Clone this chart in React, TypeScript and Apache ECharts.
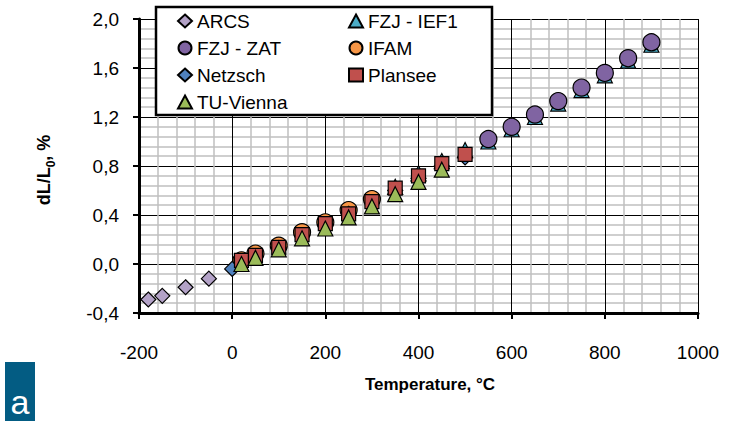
import React, { useEffect, useRef } from "react";
import * as echarts from "echarts";

// ---- data ----
const xTickMin = -200;
const xTickMax = 1000;
const yTickMin = -0.4;
const yTickMax = 2.0;

const seriesNames = ["ARCS", "FZJ - IEF1", "FZJ - ZAT", "IFAM", "Netzsch", "Plansee", "TU-Vienna"];

const arcsT = [-180, -150, -100, -50];
const arcsV = [-0.29, -0.26, -0.19, -0.12];

const ief1T = [350, 400, 450, 500, 550, 600, 650, 700, 750, 800, 850, 900];
const ief1V = [0.63, 0.74, 0.84, 0.93, 1.0, 1.1, 1.2, 1.31, 1.42, 1.54, 1.66, 1.79];

const zatT = [550, 600, 650, 700, 750, 800, 850, 900];
const zatV = [1.02, 1.12, 1.22, 1.33, 1.44, 1.56, 1.68, 1.81];

const ifamT = [20, 50, 100, 150, 200, 250, 300];
const ifamV = [0.03, 0.085, 0.15, 0.26, 0.34, 0.44, 0.53];

const netzschT = [0, 50, 100, 150, 200, 250, 300, 350, 400, 450, 500];
const netzschV = [-0.04, 0.06, 0.13, 0.23, 0.32, 0.41, 0.5, 0.6, 0.7, 0.8, 0.87];

const planseeT = [20, 50, 100, 150, 200, 250, 300, 350, 400, 450, 500];
const planseeV = [0.03, 0.07, 0.135, 0.24, 0.33, 0.41, 0.51, 0.62, 0.72, 0.82, 0.895];

const tuT = [20, 50, 100, 150, 200, 250, 300, 350, 400, 450];
const tuV = [0.0, 0.05, 0.12, 0.21, 0.29, 0.38, 0.47, 0.57, 0.67, 0.77];

const FONT = "'Liberation Sans', Arial, sans-serif";

const pairs = (t: number[], v: number[]) => t.map((x, i) => [x, v[i]]);

export default function App() {
  const ref = useRef<HTMLDivElement>(null);
  useEffect(() => {
    document.body.style.margin = "0";
    if (!ref.current) return;
    const chart = echarts.init(ref.current, null, { renderer: "svg" });

    const mk = (
      name: string,
      data: number[][],
      symbol: string,
      color: string,
      size: number
    ) => ({
      name,
      type: "scatter",
      data,
      symbol,
      symbolSize: size,
      itemStyle: { color, borderColor: "#000", borderWidth: 1.2, opacity: 1 },
      emphasis: { disabled: true },
    });

    const legendCommon = {
      orient: "vertical",
      padding: 0,
      itemWidth: 14,
      itemHeight: 13,
      itemGap: 7,
      textStyle: { fontFamily: FONT, fontSize: 19, color: "#000", lineHeight: 20 },
      selectedMode: false,
      z: 10,
    };

    chart.setOption({
      animation: false,
      grid: { left: 139, right: 31, top: 19, bottom: 108 },
      xAxis: {
        type: "value",
        min: xTickMin,
        max: xTickMax,
        interval: 200,
        axisLine: { onZero: false, lineStyle: { color: "#000", width: 3 } },
        axisTick: { show: true, length: 6, lineStyle: { color: "#000", width: 2 } },
        axisLabel: {
          fontFamily: FONT,
          fontSize: 19,
          color: "#000",
          margin: 30,
          formatter: (v: number) => String(v),
        },
        splitLine: { show: true, lineStyle: { color: "#000", width: 1 } },
        minorTick: { show: false, splitNumber: 5 },
        minorSplitLine: { show: true, lineStyle: { color: "#BFBFBF", width: 1.5 } },
      },
      yAxis: {
        type: "value",
        min: yTickMin,
        max: yTickMax,
        interval: 0.4,
        axisLine: { onZero: false, lineStyle: { color: "#000", width: 3 } },
        axisTick: { show: true, length: 6, lineStyle: { color: "#000", width: 2 } },
        axisLabel: {
          fontFamily: FONT,
          fontSize: 19,
          color: "#000",
          margin: 20,
          formatter: (v: number) => v.toFixed(1).replace(".", ","),
        },
        splitLine: { show: true, lineStyle: { color: "#000", width: 1 } },
        minorTick: { show: false, splitNumber: 5 },
        minorSplitLine: { show: true, lineStyle: { color: "#BFBFBF", width: 1.5 } },
      },
      legend: [
        { ...legendCommon, left: 177, top: 11, data: [seriesNames[0], seriesNames[2], seriesNames[4], seriesNames[6]] },
        { ...legendCommon, left: 348, top: 11, data: [seriesNames[1], seriesNames[3], seriesNames[5]] },
      ],
      graphic: [
        {
          type: "rect",
          z: 5,
          shape: { x: 156, y: 7, width: 336, height: 108 },
          style: { fill: "#fff", stroke: "#000", lineWidth: 2.5 },
        },
        {
          type: "text",
          x: 430,
          y: 384,
          style: {
            text: "Temperature, °C",
            font: `bold 17px ${FONT}`,
            fill: "#000",
            align: "center",
            verticalAlign: "middle",
          },
        },
        {
          type: "text",
          x: 42,
          y: 170,
          rotation: Math.PI / 2,
          style: {
            text: "{b|dL/L}{s|0}{b|, %}",
            align: "center",
            verticalAlign: "middle",
            rich: {
              b: { font: `bold 18px ${FONT}`, fill: "#000", lineHeight: 22, verticalAlign: "bottom" },
              s: { font: `bold 12px ${FONT}`, fill: "#000", lineHeight: 22, verticalAlign: "bottom", padding: [0, 0, -4, 0] },
            },
          },
        },
        {
          type: "rect",
          shape: { x: 5, y: 362, width: 30, height: 59 },
          style: { fill: "#035C83" },
        },
        {
          type: "text",
          x: 20,
          y: 402,
          style: {
            text: "a",
            font: `34px ${FONT}`,
            fill: "#fff",
            align: "center",
            verticalAlign: "middle",
          },
        },
      ],
      series: [
        mk(seriesNames[0], pairs(arcsT, arcsV), "diamond", "#B3A2C7", 15),
        mk(seriesNames[1], pairs(ief1T, ief1V), "triangle", "#4BACC6", 15),
        mk(seriesNames[2], pairs(zatT, zatV), "circle", "#8064A2", 17),
        mk(seriesNames[3], pairs(ifamT, ifamV), "circle", "#F79646", 17),
        mk(seriesNames[4], pairs(netzschT, netzschV), "diamond", "#4F81BD", 15),
        mk(seriesNames[5], pairs(planseeT, planseeV), "rect", "#C0504D", 14),
        mk(seriesNames[6], pairs(tuT, tuV), "triangle", "#9BBB59", 15),
      ],
    });
    return () => chart.dispose();
  }, []);
  return <div ref={ref} style={{ width: 729, height: 421 }} />;
}
